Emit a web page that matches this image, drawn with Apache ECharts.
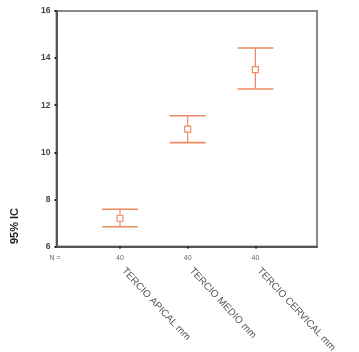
<!DOCTYPE html>
<html>
<head>
<meta charset="utf-8">
<script src="https://cdn.jsdelivr.net/npm/echarts@6/dist/echarts.min.js"></script>
<style>
  html, body { margin: 0; padding: 0; background: #fff; }
  #chart { width: 359px; height: 352px; }
</style>
</head>
<body>
<div id="chart"></div>
<script>
// Confidence intervals (95%) per root third
const categories = ['TERCIO APICAL mm', 'TERCIO MEDIO mm', 'TERCIO CERVICAL mm'];
const sampleSizes = [40, 40, 40];
const means = [7.20, 10.98, 13.51];
const lowerCI = [6.84, 10.41, 12.69];
const upperCI = [7.58, 11.55, 14.43];
const yTicks = [6, 8, 10, 12, 14, 16];

const positions = categories.map((_, i) => i + 1);
const barColor = '#ef8a62';

const chart = echarts.init(document.getElementById('chart'), null, { renderer: 'canvas' });

const seriesData = positions.map((p, i) => [p, means[i], lowerCI[i], upperCI[i]]);

function renderErrorBar(params, api) {
  const x = api.value(0);
  const c = api.coord([x, api.value(1)]);
  const lo = api.coord([x, api.value(2)]);
  const hi = api.coord([x, api.value(3)]);
  const half = 18;
  const box = 3;
  const lineStyle = { stroke: barColor, lineWidth: 1.2 };
  const capStyle = { stroke: barColor, lineWidth: 1.6 };
  return {
    type: 'group',
    children: [
      { type: 'line', shape: { x1: c[0], y1: hi[1], x2: c[0], y2: c[1] - box }, style: lineStyle },
      { type: 'line', shape: { x1: c[0], y1: c[1] + box, x2: c[0], y2: lo[1] }, style: lineStyle },
      { type: 'line', shape: { x1: c[0] - half, y1: hi[1], x2: c[0] + half, y2: hi[1] }, style: capStyle },
      { type: 'line', shape: { x1: c[0] - half, y1: lo[1], x2: c[0] + half, y2: lo[1] }, style: capStyle },
      { type: 'rect', shape: { x: c[0] - box, y: c[1] - box, width: box * 2, height: box * 2 },
        style: { stroke: barColor, fill: 'none', lineWidth: 1.2 } }
    ]
  };
}

const xMin = 0.062, xMax = 3.91;

chart.setOption({
  animation: false,
  backgroundColor: '#ffffff',
  grid: {
    left: 56.5, top: 11, right: 42, bottom: 105.5,
    outerBoundsMode: 'none', containLabel: false,
    show: true, borderColor: '#8a8a8a', borderWidth: 2, backgroundColor: '#ffffff'
  },
  xAxis: [
    {
      type: 'value', min: xMin, max: xMax,
      splitLine: { show: false },
      axisLine: { show: true, lineStyle: { color: '#555', width: 2 } },
      axisTick: { show: true, customValues: positions, length: 2, lineStyle: { color: '#222', width: 2 } },
      axisLabel: {
        customValues: positions, margin: 8,
        fontFamily: 'Liberation Sans', fontSize: 7, color: '#666',
        formatter: v => String(sampleSizes[Math.round(v) - 1])
      }
    },
    {
      type: 'value', min: xMin, max: xMax, position: 'bottom',
      splitLine: { show: false },
      axisLine: { show: false },
      axisTick: { show: false },
      axisLabel: {
        customValues: positions, margin: 19, rotate: -47,
        padding: [0, 0, 0, 5],
        fontFamily: 'Liberation Sans', fontSize: 10, color: '#555',
        formatter: v => categories[Math.round(v) - 1]
      }
    }
  ],
  yAxis: {
    type: 'value', min: yTicks[0], max: yTicks[yTicks.length - 1], interval: 2,
    splitLine: { show: false },
    axisLine: { show: true, lineStyle: { color: '#555', width: 2 } },
    axisTick: { show: true, length: 2, lineStyle: { color: '#222', width: 2 } },
    axisLabel: { margin: 6, fontFamily: 'Liberation Sans', fontSize: 8.5, fontWeight: 'bold', color: '#444' }
  },
  graphic: [
    {
      type: 'text', x: 15, y: 226, rotation: Math.PI / 2,
      style: { text: '95% IC', fontFamily: 'Liberation Sans', fontSize: 11, fontWeight: 'bold',
               fill: '#222', align: 'center', verticalAlign: 'middle' }
    },
    {
      type: 'text', x: 55, y: 258,
      style: { text: 'N =', fontFamily: 'Liberation Sans', fontSize: 7, fill: '#666',
               align: 'center', verticalAlign: 'middle' }
    }
  ],
  series: [{
    type: 'custom',
    xAxisIndex: 0,
    renderItem: renderErrorBar,
    encode: { x: 0, y: [1, 2, 3] },
    data: seriesData,
    clip: false
  }]
});
</script>
</body>
</html>
